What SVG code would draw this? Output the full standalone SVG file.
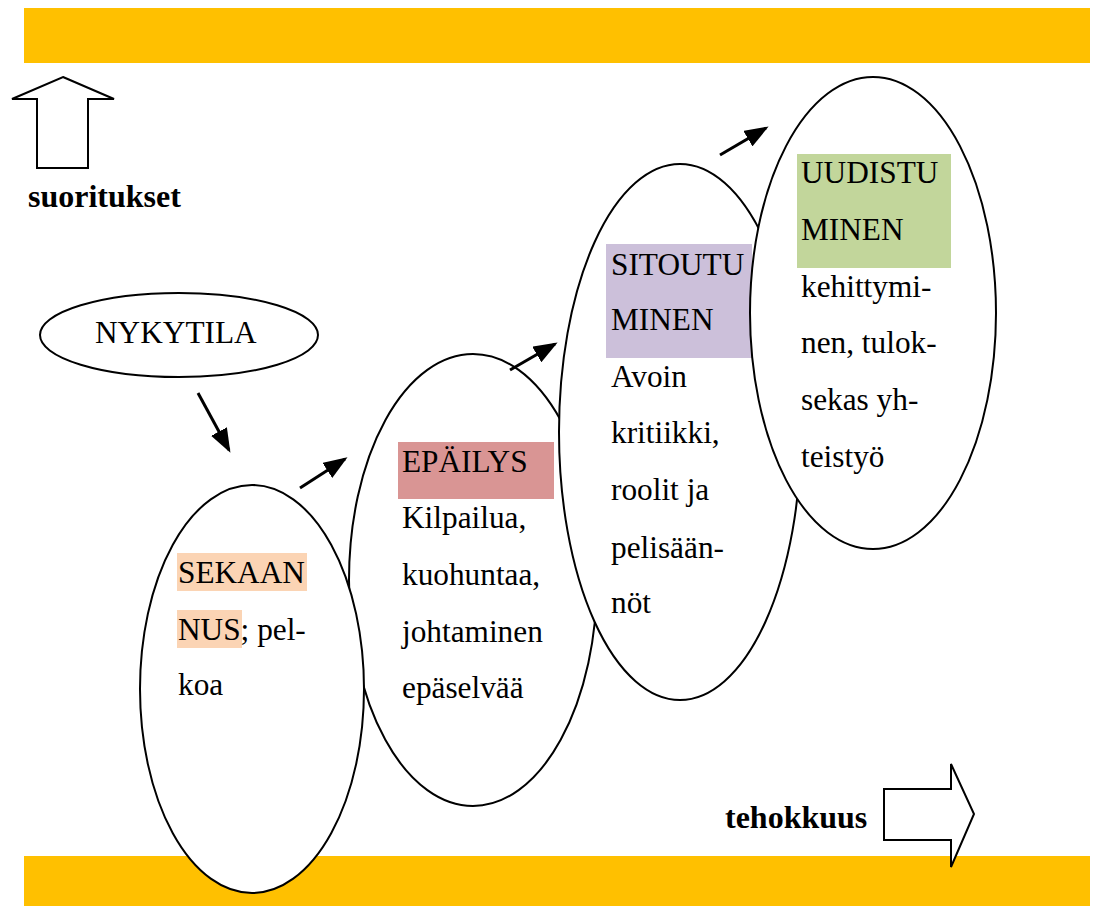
<svg xmlns="http://www.w3.org/2000/svg" width="1093" height="908" viewBox="0 0 1093 908">
<style>
.t{font-family:"Liberation Serif","Times New Roman",serif;font-size:31.3px;fill:#000}
.b{font-weight:bold;font-size:32px}
.e{fill:#fff;stroke:#000;stroke-width:2}
.o{fill:#fff;stroke:#000;stroke-width:2;stroke-linejoin:miter}
.c{stroke:#000;stroke-width:3;fill:none}
.bar{fill:#FFC000}
</style>
<defs>
<marker id="ah" markerWidth="8" markerHeight="6" refX="7" refY="3" orient="auto" markerUnits="strokeWidth">
<path d="M0,0 L8,3 L0,6 Z" fill="#000"/>
</marker>
</defs>
<rect width="1093" height="908" fill="#fff"/>
<rect class="bar" x="24" y="8" width="1066" height="55"/>
<rect class="bar" x="24" y="856" width="1066" height="50"/>

<g id="suoritukset">
<polygon class="o" points="63,77 114,99 88,99 88,168 37,168 37,99 12,99"/>
<text class="t b" x="28" y="207">suoritukset</text>
</g>

<g id="nykytila">
<ellipse class="e" cx="179" cy="335" rx="139" ry="42"/>
<text class="t" x="95" y="343">NYKYTILA</text>
</g>

<g id="epailys">
<ellipse class="e" cx="473" cy="580" rx="124" ry="226"/>
<rect x="398" y="442" width="156" height="57" fill="#D99594"/>
<text class="t" x="402" y="472">EPÄILYS</text>
<text class="t" x="402" y="528">Kilpailua,</text>
<text class="t" x="402" y="585">kuohuntaa,</text>
<text class="t" x="402" y="642">johtaminen</text>
<text class="t" x="402" y="698">epäselvää</text>
</g>

<g id="sekaannus">
<ellipse class="e" cx="252" cy="689" rx="112" ry="204"/>
<rect x="177" y="553" width="130" height="38" fill="#FBD4B4"/>
<rect x="177" y="610" width="65" height="38" fill="#FBD4B4"/>
<text class="t" x="178" y="583">SEKAAN</text>
<text class="t" x="178" y="640">NUS; pel-</text>
<text class="t" x="178" y="695">koa</text>
</g>

<g id="sitoutuminen">
<ellipse class="e" cx="680" cy="432" rx="121" ry="268"/>
<rect x="606" y="244" width="146" height="114" fill="#CCC0DA"/>
<text class="t" x="611" y="275">SITOUTU</text>
<text class="t" x="611" y="330">MINEN</text>
<text class="t" x="611" y="387">Avoin</text>
<text class="t" x="611" y="443">kritiikki,</text>
<text class="t" x="611" y="500">roolit ja</text>
<text class="t" x="611" y="558">pelisään-</text>
<text class="t" x="611" y="613">nöt</text>
</g>

<g id="uudistuminen">
<ellipse class="e" cx="873" cy="313" rx="123" ry="236"/>
<rect x="797" y="154" width="154" height="114" fill="#C2D69B"/>
<text class="t" x="801" y="183">UUDISTU</text>
<text class="t" x="801" y="240">MINEN</text>
<text class="t" x="801" y="297">kehittymi-</text>
<text class="t" x="801" y="353">nen, tulok-</text>
<text class="t" x="801" y="410">sekas yh-</text>
<text class="t" x="801" y="467">teistyö</text>
</g>

<g id="tehokkuus">
<polygon class="o" points="884,789 951,789 951,764 974,814 951,867 951,840 884,840"/>
<text class="t b" x="725" y="828">tehokkuus</text>
</g>

<g id="connectors">
<line class="c" x1="198" y1="393" x2="229" y2="450" marker-end="url(#ah)"/>
<line class="c" x1="300" y1="488" x2="345" y2="459" marker-end="url(#ah)"/>
<line class="c" x1="510" y1="370" x2="555" y2="344" marker-end="url(#ah)"/>
<line class="c" x1="720" y1="155" x2="766" y2="128" marker-end="url(#ah)"/>
</g>
</svg>
